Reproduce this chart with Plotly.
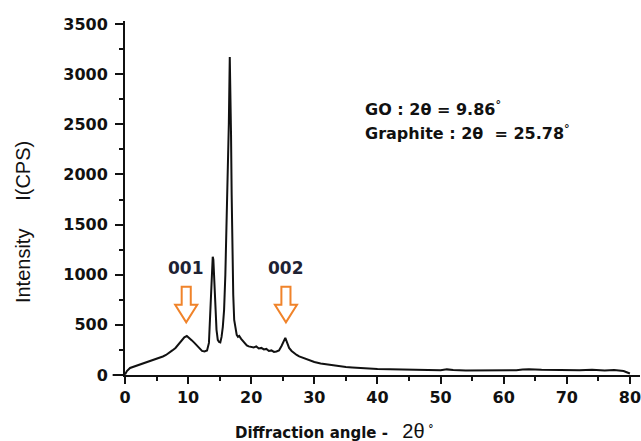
import plotly.graph_objects as go

# ---- data ----
two_theta = [0, 0.3, 0.8, 1.5, 2.0, 2.5, 3.0, 3.5, 4.0, 4.5, 5.0, 5.5, 6.0, 6.5, 7.0, 7.5,
             8.0, 8.5, 9.0, 9.4, 9.8, 10.2, 10.6, 11.0, 11.4, 11.8, 12.2, 12.6, 13.0,
             13.3, 13.5, 13.7, 13.9, 14.0, 14.15, 14.3, 14.5, 14.7, 14.9, 15.1, 15.3, 15.5,
             15.7, 15.9, 16.1, 16.3, 16.45, 16.6, 16.7, 16.8, 16.9, 17.0, 17.15, 17.3, 17.5,
             17.7, 17.9, 18.1, 18.4, 18.7, 19.0, 19.3, 19.6, 20.0, 20.4, 20.8, 21.2, 21.6,
             22.0, 22.4, 22.8, 23.2, 23.6, 24.0, 24.4, 24.8, 25.1, 25.4, 25.7, 26.0, 26.4,
             26.8, 27.2, 27.6, 28.0, 28.5, 29.0, 29.5, 30, 31, 32, 33, 34, 35, 36, 37, 38,
             39, 40, 42, 44, 46, 48, 50, 51, 52, 54, 56, 58, 60, 62, 63, 64, 66, 68, 70,
             72, 74, 76, 77.5, 78, 79, 80]
intensity = [5, 40, 70, 85, 100, 105, 120, 130, 140, 150, 160, 170, 185, 200, 220, 245,
             270, 310, 350, 375, 390, 370, 345, 320, 290, 260, 240, 235, 245,
             320, 600, 950, 1180, 1150, 900, 650, 450, 350, 330, 325, 380, 480,
             650, 1000, 1500, 2000, 2500, 3170, 2900, 2400, 1800, 1200, 800, 550, 450,
             400, 380, 390, 360, 340, 310, 295, 285, 280, 275, 285, 265, 270,
             255, 260, 240, 245, 230, 235, 245, 290, 340, 370, 320, 270, 240,
             215, 200, 185, 175, 160, 150, 140, 130, 115, 105, 95, 88, 80, 75, 70, 67,
             62, 60, 58, 55, 52, 50, 48, 56, 50, 46, 45, 44, 45, 48, 55, 58, 52, 50, 55,
             48, 52, 45, 50, 48, 40, 15]

x_ticks = [0, 10, 20, 30, 40, 50, 60, 70, 80]
y_ticks = [0, 500, 1000, 1500, 2000, 2500, 3000, 3500]

peak_labels = ["001", "002"]
peak_pos = [9.7, 25.5]
label_y = 1067
annotation_lines = ["GO : 2θ = 9.86<sup>°</sup>", "Graphite : 2θ  = 25.78<sup>°</sup>"]

INK = "#111111"
ORANGE = "#F0832A"
BOLD = dict(family="DejaVu Sans", weight="bold", color=INK)

fig = go.Figure()
fig.add_trace(go.Scatter(x=two_theta, y=intensity, mode="lines",
                         line=dict(color=INK, width=2), showlegend=False,
                         hoverinfo="skip"))

# hollow orange arrows and peak labels
shaft_top, shaft_bot, tip = 880, 700, 525
for lab, xp in zip(peak_labels, peak_pos):
    path = (f"M {xp-0.72},{shaft_top} L {xp+0.72},{shaft_top} L {xp+0.72},{shaft_bot} "
            f"L {xp+1.75},{shaft_bot} L {xp},{tip} L {xp-1.75},{shaft_bot} "
            f"L {xp-0.72},{shaft_bot} Z")
    fig.add_shape(type="path", path=path, xref="x", yref="y",
                  line=dict(color=ORANGE, width=2), fillcolor="white")
    fig.add_annotation(x=xp, y=label_y, xref="x", yref="y", text=lab, showarrow=False,
                       font=dict(family="DejaVu Sans", size=17, weight="bold", color="#1e2233"))

# extension of x-axis line to the left of the y axis
fig.add_shape(type="line", xref="paper", yref="paper", x0=-0.024, x1=0, y0=0, y1=0,
              line=dict(color=INK, width=2))

# GO / Graphite text
for txt, yp in zip(annotation_lines, [0.754, 0.686]):
    fig.add_annotation(x=0.462, y=yp, xref="paper", yref="paper", text=txt,
                       showarrow=False, xanchor="left", yanchor="middle",
                       font=dict(family="DejaVu Sans", size=16, weight="bold", color=INK))

# axis titles
fig.add_annotation(x=0.2097, y=-0.158, xref="paper", yref="paper", xanchor="left",
                   yanchor="middle", showarrow=False,
                   text=("<b>Diffraction angle -</b>\u00a0\u00a0\u00a0"
                         "<span style='font-family:Liberation Sans;font-size:20px;font-weight:normal'>2θ</span>"
                         "<sup><b>\u00a0°</b></sup>"),
                   font=dict(family="DejaVu Sans", size=15, color=INK))
fig.add_annotation(x=-0.198, y=0.432, xref="paper", yref="paper", textangle=-90,
                   showarrow=False, xanchor="center", yanchor="middle",
                   text="Intensity" + "\u00a0" * 5 + "I(CPS)",
                   font=dict(family="Liberation Sans", size=20, color=INK))

fig.update_xaxes(range=[0, 81.6], tickvals=x_ticks, ticktext=[str(v) for v in x_ticks],
                 showline=True, linecolor=INK, linewidth=2, ticks="outside", ticklen=7,
                 tickwidth=2, tickcolor=INK, tickfont=dict(size=16, **BOLD),
                 ticklabeloverflow="allow", showgrid=False, zeroline=False,
                 minor=dict(dtick=5, tick0=0, ticks="outside", ticklen=4, tickwidth=1.5,
                            tickcolor=INK))
fig.update_yaxes(range=[0, 3530], tickvals=y_ticks, ticktext=[str(v) for v in y_ticks],
                 showline=True, linecolor=INK, linewidth=2, ticks="outside", ticklen=8,
                 tickwidth=2, tickcolor=INK, tickfont=dict(size=16, **BOLD),
                 ticklabelstandoff=4, showgrid=False, zeroline=False,
                 minor=dict(dtick=250, tick0=0, ticks="outside", ticklen=4, tickwidth=1.5,
                            tickcolor=INK))

fig.update_layout(width=641, height=441, margin=dict(l=125, r=1, t=21, b=66),
                  plot_bgcolor="white", paper_bgcolor="white", showlegend=False)

fig.write_html("out.html", config={"displayModeBar": False},
               post_script="document.body.style.margin='0px';document.body.style.overflow='hidden';")
